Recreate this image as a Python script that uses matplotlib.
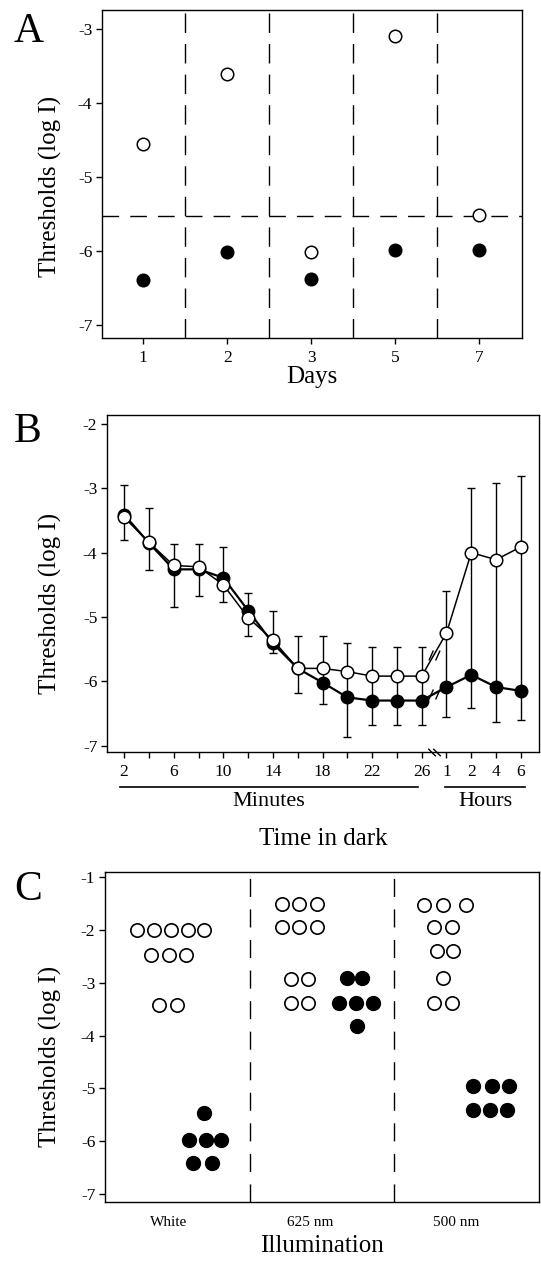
import numpy as np
import matplotlib
matplotlib.use("Agg")
import matplotlib.pyplot as plt
from matplotlib.path import Path

plt.rcParams['font.family'] = ['Liberation Serif', 'DejaVu Serif']

# ---------------- Panel A data ----------------
a_days = ['1', '2', '3', '5', '7']
a_open = [-4.55, -3.60, -6.01, -3.09, -5.51]
a_filled = [-6.40, -6.02, -6.38, -5.99, -5.99]
a_criterion = -5.53

# ---------------- Panel B data ----------------
b_minutes = [2, 4, 6, 8, 10, 12, 14, 16, 18, 20, 22, 24, 26]
b_hours = [1, 2, 4, 6]
b_minute_labels = ['2', '', '6', '', '10', '', '14', '', '18', '', '22', '', '26']
b_hour_labels = ['1', '2', '4', '6']
b_open = [-3.45, -3.84, -4.20, -4.22, -4.50, -5.01, -5.36, -5.80, -5.80, -5.85,
          -5.92, -5.92, -5.92, -5.25, -4.00, -4.11, -3.91]
b_filled = [-3.41, -3.85, -4.26, -4.26, -4.39, -4.90, -5.41, -5.80, -6.02, -6.25,
            -6.30, -6.30, -6.30, -6.09, -5.90, -6.09, -6.15]
b_upper = [-2.95, -3.30, -3.86, -3.87, -3.91, -4.62, -4.91, -5.29, -5.29, -5.41,
           -5.46, -5.46, -5.46, -4.60, -2.99, -2.92, -2.81]
b_lower = [-3.81, -4.27, -4.85, -4.67, -4.77, -5.30, -5.56, -6.18, -6.36, -6.86,
           -6.68, -6.68, -6.68, -6.55, -6.42, -6.64, -6.60]

# ---------------- Panel C data ----------------
c_labels = ['White', '625 nm', '500 nm']
c_white_open = [-2.0, -2.0, -2.0, -2.0, -2.0, -2.47, -2.47, -2.47, -3.42, -3.42]
c_white_open_x = [0.218, 0.337, 0.453, 0.577, 0.683, 0.316, 0.442, 0.558, 0.373, 0.495]
c_white_filled = [-5.47, -5.98, -5.98, -5.98, -6.42, -6.42]
c_white_filled_x = [0.684, 0.583, 0.696, 0.800, 0.610, 0.737]
c_625_open = [-1.50, -1.50, -1.50, -1.94, -1.94, -1.94, -2.92, -2.92, -3.39, -3.39]
c_625_open_x = [1.221, 1.343, 1.463, 1.221, 1.343, 1.463, 1.283, 1.405, 1.283, 1.405]
c_625_filled = [-2.91, -2.91, -3.39, -3.39, -3.39, -3.81]
c_625_filled_x = [1.675, 1.774, 1.619, 1.735, 1.854, 1.744]
c_500_open = [-1.53, -1.53, -1.53, -1.94, -1.94, -2.40, -2.40, -2.91, -3.39, -3.39]
c_500_open_x = [2.205, 2.338, 2.493, 2.274, 2.400, 2.292, 2.407, 2.334, 2.274, 2.400]
c_500_filled = [-4.95, -4.95, -4.95, -5.40, -5.40, -5.40]
c_500_filled_x = [2.545, 2.672, 2.794, 2.545, 2.661, 2.780]

W, H = 541, 1265
fig = plt.figure(figsize=(W / 100, H / 100), dpi=100)


def ax_rect(l, t, r, b):
    return [l / W, 1 - b / H, (r - l) / W, (b - t) / H]


TICK_FS = 12.5
LAB_FS = 18

BREAK_UP = Path([(-1.0, -0.9), (-0.2, 0.9), (0.2, -0.9), (1.0, 0.9)],
                [Path.MOVETO, Path.LINETO, Path.MOVETO, Path.LINETO])
BREAK_DOWN = Path([(-1.0, 0.6), (0.2, -0.6), (-0.2, 0.6), (1.0, -0.6)],
                  [Path.MOVETO, Path.LINETO, Path.MOVETO, Path.LINETO])


def style(ax):
    for s in ax.spines.values():
        s.set_linewidth(1.0)
    ax.tick_params(direction='out', length=4, width=1.0, labelsize=TICK_FS, pad=3)
    ax.tick_params(axis='x', pad=5)


# ================= Panel A =================
axA = fig.add_axes(ax_rect(102, 10, 522, 338))
style(axA)
xa = np.arange(len(a_days))
for xv in xa[:-1] + 0.5:
    axA.axvline(xv, color='black', lw=1.0, dashes=(14, 8))
axA.axhline(a_criterion, color='black', lw=1.0, dashes=(12, 8))
axA.plot(xa, a_open, 'o', ms=9, mfc='white', mec='black', mew=1.1, zorder=3)
axA.plot(xa, a_filled, 'o', ms=9, mfc='black', mec='black', mew=1.1, zorder=3)
axA.set_xlim(-0.49, 4.51)
axA.set_ylim(-7.18, -2.74)
axA.set_xticks(xa)
axA.set_xticklabels(a_days)
axA.set_yticks([-3, -4, -5, -6, -7])
axA.set_yticklabels(['-3', '-4', '-5', '-6', '-7'])
axA.set_xlabel('Days', fontsize=LAB_FS, labelpad=0)
axA.xaxis.set_label_coords(0.5, -0.085)
axA.set_ylabel('Thresholds (log I)', fontsize=LAB_FS)
axA.yaxis.set_label_coords(-0.095, 0.463)
fig.text(14 / W, 1 - 42 / H, 'A', fontsize=30, ha='left', va='baseline')

# ================= Panel B =================
axB = fig.add_axes(ax_rect(107, 415, 539, 752))
style(axB)
xb = np.arange(len(b_minutes) + len(b_hours))
b_open_a = np.array(b_open)
axB.errorbar(xb, b_open_a, yerr=[b_open_a - np.array(b_lower), np.array(b_upper) - b_open_a],
             fmt='none', ecolor='black', elinewidth=1.0, capsize=3, capthick=1.0, zorder=1)
axB.plot(xb, b_filled, '-o', color='black', lw=1.6, ms=9, mfc='black', mec='black', mew=1.0, zorder=2)
axB.plot(xb, b_open, '-o', color='black', lw=1.1, ms=9, mfc='white', mec='black', mew=1.1, zorder=3)
nm = len(b_minutes)
bx = (xb[nm - 1] + xb[nm]) / 2
for series in (b_open, b_filled):
    by = (series[nm - 1] + series[nm]) / 2
    axB.plot([bx], [by], marker=BREAK_UP, ms=8, mec='black', mew=1.0, ls='none', zorder=4)
axB.set_xlim(-0.69, 16.73)
axB.set_ylim(-7.1, -1.86)
axB.plot([bx], [-7.1], marker=BREAK_DOWN, ms=9, mec='black', mew=1.0, ls='none', zorder=5, clip_on=False)
axB.set_xticks(xb)
axB.set_xticklabels(b_minute_labels + b_hour_labels)
axB.set_yticks([-2, -3, -4, -5, -6, -7])
axB.set_yticklabels(['-2', '-3', '-4', '-5', '-6', '-7'])
axB.set_ylabel('Thresholds (log I)', fontsize=LAB_FS)
axB.yaxis.set_label_coords(-0.104, 0.44)
axB.set_xlabel('Time in dark', fontsize=LAB_FS)
axB.xaxis.set_label_coords(0.5, -0.225)
trB = axB.get_xaxis_transform()
axB.plot([xb[0] - 0.15, xb[nm - 1] - 0.15], [-0.104, -0.104], color='black', lw=1.2,
         transform=trB, clip_on=False)
axB.plot([xb[nm] - 0.06, xb[-1] + 0.17], [-0.104, -0.104], color='black', lw=1.2,
         transform=trB, clip_on=False)
axB.text((xb[0] + xb[nm - 1]) / 2 - 0.15, -0.118, 'Minutes', fontsize=16, ha='center', va='top',
         transform=trB)
axB.text((xb[nm] + xb[-1]) / 2 + 0.05, -0.118, 'Hours', fontsize=16, ha='center', va='top',
         transform=trB)
fig.text(14 / W, 1 - 442 / H, 'B', fontsize=30, ha='left', va='baseline')

# ================= Panel C =================
axC = fig.add_axes(ax_rect(105, 872, 539, 1202))
style(axC)
for xv in (1, 2):
    axC.axvline(xv, color='black', lw=1.0, dashes=(13, 9))
for xs, ys in ((c_white_open_x, c_white_open), (c_625_open_x, c_625_open), (c_500_open_x, c_500_open)):
    axC.plot(xs, ys, 'o', ms=9.6, mfc='white', mec='black', mew=1.2, ls='none')
for xs, ys in ((c_white_filled_x, c_white_filled), (c_625_filled_x, c_625_filled),
               (c_500_filled_x, c_500_filled)):
    axC.plot(xs, ys, 'o', ms=10, mfc='black', mec='black', mew=1.0, ls='none')
axC.set_xlim(0, 3)
axC.set_ylim(-7.15, -0.9)
axC.set_xticks([0.44, 1.42, 2.43])
axC.set_xticklabels(c_labels, fontsize=11)
axC.tick_params(axis='x', length=0, pad=10)
axC.set_yticks([-1, -2, -3, -4, -5, -6, -7])
axC.set_yticklabels(['-1', '-2', '-3', '-4', '-5', '-6', '-7'])
axC.set_ylabel('Thresholds (log I)', fontsize=LAB_FS)
axC.yaxis.set_label_coords(-0.099, 0.442)
axC.set_xlabel('Illumination', fontsize=LAB_FS)
axC.xaxis.set_label_coords(0.5, -0.1)
fig.text(14 / W, 1 - 900 / H, 'C', fontsize=30, ha='left', va='baseline')

fig.savefig('out.png', dpi=100)
